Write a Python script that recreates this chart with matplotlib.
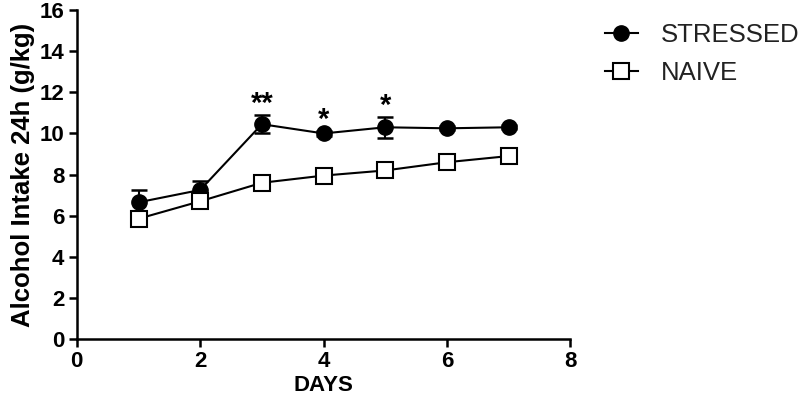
import matplotlib.pyplot as plt
from matplotlib.lines import Line2D

days = [1, 2, 3, 4, 5, 6, 7]
stressed = [6.65, 7.25, 10.45, 10.0, 10.3, 10.25, 10.3]
stressed_err = [0.6, 0.45, 0.45, 0.1, 0.5, 0.1, 0.1]
naive = [5.85, 6.7, 7.6, 7.95, 8.2, 8.6, 8.9]
naive_err = [0.1, 0.1, 0.1, 0.1, 0.1, 0.1, 0.1]
stars = {3: "**", 4: "*", 5: "*"}

plt.rcParams["font.family"] = ["Liberation Sans", "DejaVu Sans"]

fig = plt.figure(figsize=(8, 4.05), dpi=100)
ax = fig.add_axes([0.096, 0.163, 0.617, 0.812])

ax.errorbar(days, stressed, yerr=stressed_err, color="black", lw=1.5,
            marker="o", ms=11, mfc="black", mec="black",
            capsize=6, capthick=1.8, elinewidth=1.5, zorder=3)
ax.errorbar(days, naive, yerr=naive_err, color="black", lw=1.5,
            marker="s", ms=12, mfc="white", mec="black", mew=1.5,
            capsize=6, capthick=1.8, elinewidth=1.5, zorder=4)

for d, s in stars.items():
    i = days.index(d)
    top = stressed[i] + stressed_err[i]
    ax.annotate(s, (d, top), xytext=(0, -2), textcoords="offset points",
                ha="center", va="bottom", fontsize=21, fontweight="bold")

ax.set_xlim(0, 8)
ax.set_ylim(0, 16)
ax.set_xticks(range(0, 9, 2))
ax.set_yticks(range(0, 17, 2))
for side in ("top", "right"):
    ax.spines[side].set_visible(False)
for side in ("left", "bottom"):
    ax.spines[side].set_linewidth(1.8)
ax.tick_params(width=1.8, length=6, labelsize=16, pad=3)
for lbl in ax.get_xticklabels() + ax.get_yticklabels():
    lbl.set_fontweight("bold")

ax.set_xlabel("DAYS", fontsize=16, fontweight="bold", labelpad=2)
ax.set_ylabel("Alcohol Intake 24h (g/kg)", fontsize=18.5, fontweight="bold", labelpad=3)

handles = [
    Line2D([], [], color="black", lw=1.5, marker="o", ms=11, mfc="black"),
    Line2D([], [], color="black", lw=1.5, marker="s", ms=12, mfc="white", mew=1.5),
]
fig.legend(handles, ["STRESSED", "NAIVE"], loc="upper left",
           bbox_to_anchor=(0.727, 1.0), frameon=False, fontsize=18.5,
           handlelength=1.3, handletextpad=0.9, labelspacing=0.55,
           labelcolor="#222222")

fig.savefig("out.png", dpi=100)
